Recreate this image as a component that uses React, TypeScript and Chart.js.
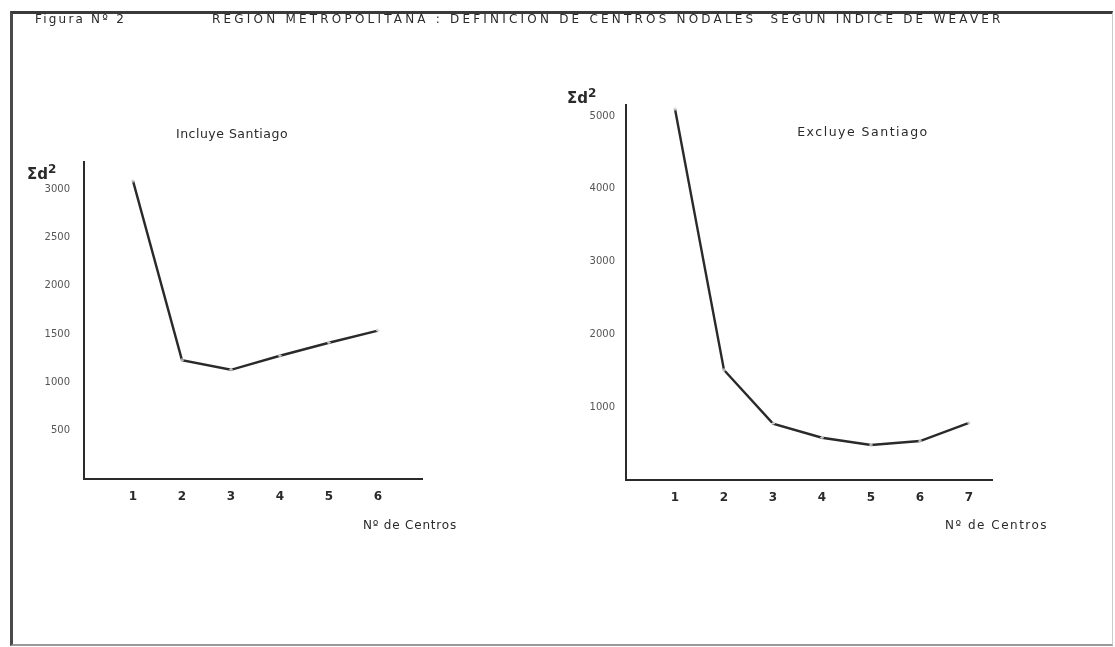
import React, { useEffect, useRef } from "react";
import { Chart, registerables } from "chart.js";

Chart.register(...registerables);

// ---- data ----
const leftCategories = [1, 2, 3, 4, 5, 6];
const leftValues = [3085, 1230, 1130, 1275, 1410, 1535];
const leftYTicks = [500, 1000, 1500, 2000, 2500, 3000];

const rightCategories = [1, 2, 3, 4, 5, 6, 7];
const rightValues = [5095, 1510, 775, 580, 480, 535, 785];
const rightYTicks = [1000, 2000, 3000, 4000, 5000];

const figureLabel = "Figura Nº 2";
const titleText = "REGION METROPOLITANA : DEFINICION DE CENTROS NODALES  SEGUN INDICE DE WEAVER";
const leftSubtitle = "Incluye Santiago";
const rightSubtitle = "Excluye Santiago";
const xAxisTitle = "Nº de Centros";

const FONT = "'DejaVu Sans', sans-serif";
const INK = "#2a2a2a";

type Cfg = {
  cats: number[];
  vals: number[];
  yTicks: number[];
  xMax: number;
  yMax: number;
  yWidth: number;
  xHeight: number;
  padTop: number;
  padRight: number;
  tickPad: number;
};

function makeConfig(c: Cfg): any {
  return {
    type: "line",
    data: {
      datasets: [
        {
          data: c.cats.map((x, i) => ({ x, y: c.vals[i] })),
          borderColor: "#2a2a2a",
          borderWidth: 2.4,
          pointRadius: 2,
          pointStyle: "cross",
          pointBorderColor: "#ddd",
          pointBorderWidth: 1,
          tension: 0,
          fill: false,
        },
      ],
    },
    options: {
      animation: false,
      responsive: false,
      maintainAspectRatio: false,
      layout: { padding: { left: 0, top: c.padTop, right: c.padRight, bottom: 0 } },
      plugins: { legend: { display: false }, tooltip: { enabled: false }, title: { display: false } },
      scales: {
        x: {
          type: "linear",
          min: 0,
          max: c.xMax,
          afterBuildTicks: (s: any) => {
            s.ticks = c.cats.map((v) => ({ value: v }));
          },
          afterFit: (s: any) => {
            s.height = c.xHeight;
          },
          ticks: {
            autoSkip: false,
            maxRotation: 0,
            padding: 11,
            color: INK,
            font: { family: FONT, size: 12, weight: "bold" },
            callback: (v: any) => String(v),
          },
          grid: { display: true, drawOnChartArea: false, drawTicks: false },
          border: { display: true, color: "#2a2a2a", width: 2 },
        },
        y: {
          type: "linear",
          min: 0,
          max: c.yMax,
          afterBuildTicks: (s: any) => {
            s.ticks = c.yTicks.map((v) => ({ value: v }));
          },
          afterFit: (s: any) => {
            s.width = c.yWidth;
          },
          ticks: {
            autoSkip: false,
            padding: c.tickPad,
            color: "#555",
            font: { family: FONT, size: 10 },
            callback: (v: any) => String(v),
          },
          grid: { display: true, drawOnChartArea: false, drawTicks: false },
          border: { display: true, color: "#2a2a2a", width: 2 },
        },
      },
    },
  };
}

function ChartCanvas(props: { cfg: Cfg; left: number; width: number }) {
  const ref = useRef<HTMLCanvasElement | null>(null);
  useEffect(() => {
    if (!ref.current) return;
    const chart = new Chart(ref.current, makeConfig(props.cfg));
    return () => chart.destroy();
  }, []);
  return (
    <canvas
      ref={ref}
      width={props.width}
      height={647}
      style={{ position: "absolute", left: props.left, top: 0, width: props.width, height: 647 }}
    />
  );
}

function Txt(props: { x: number; y: number; text: string; size: number; spacing?: number; bold?: boolean; anchor?: "left" | "center"; color?: string }) {
  const style: any = {
    position: "absolute",
    top: props.y - props.size * 0.6,
    lineHeight: props.size * 1.2 + "px",
    fontFamily: FONT,
    fontSize: props.size,
    fontWeight: props.bold ? "bold" : "normal",
    letterSpacing: (props.spacing || 0) + "px",
    color: props.color || INK,
    whiteSpace: "pre",
  };
  if (props.anchor === "center") {
    style.left = props.x - 300;
    style.width = 600;
    style.textAlign = "center";
  } else {
    style.left = props.x;
  }
  return <div style={style}>{props.text}</div>;
}

function SigmaLabel(props: { x: number; y: number }) {
  return (
    <div
      style={{
        position: "absolute",
        left: props.x,
        top: props.y,
        fontFamily: FONT,
        fontWeight: "bold",
        fontSize: 15,
        lineHeight: "18px",
        color: INK,
        whiteSpace: "pre",
      }}
    >
      Σd<sup style={{ fontSize: 12 }}>2</sup>
    </div>
  );
}

export default function App() {
  const leftCfg: Cfg = {
    cats: leftCategories,
    vals: leftValues,
    yTicks: leftYTicks,
    xMax: 6.9,
    yMax: 3280,
    yWidth: 84,
    xHeight: 168,
    padTop: 162,
    padRight: 540 - 422,
    tickPad: 14,
  };
  const rightCfg: Cfg = {
    cats: rightCategories,
    vals: rightValues,
    yTicks: rightYTicks,
    xMax: 7.47,
    yMax: 5150,
    yWidth: 86,
    xHeight: 167,
    padTop: 105,
    padRight: 575 - 452,
    tickPad: 11,
  };
  return (
    <div style={{ position: "absolute", left: 0, top: 0, width: 1115, height: 647, background: "#fff", overflow: "hidden" }}>
      <div
        style={{
          position: "absolute",
          left: 10,
          top: 11,
          width: 1103,
          height: 635,
          boxSizing: "border-box",
          borderTop: "3px solid #3a3a3a",
          borderLeft: "3px solid #4a4a4a",
          borderBottom: "2px solid #999",
          borderRight: "1px solid #ccc",
        }}
      />
      <ChartCanvas cfg={leftCfg} left={0} width={540} />
      <ChartCanvas cfg={rightCfg} left={540} width={575} />
      <Txt x={35} y={19} text={figureLabel} size={12} spacing={2.2} />
      <Txt x={212} y={19} text={titleText} size={12} spacing={3.2} />
      <Txt x={232} y={133} text={leftSubtitle} size={12.5} spacing={0.5} anchor="center" />
      <Txt x={863} y={131} text={rightSubtitle} size={12.5} spacing={1.5} anchor="center" />
      <Txt x={363} y={525} text={xAxisTitle} size={12} spacing={0.8} />
      <Txt x={945} y={525} text={xAxisTitle} size={12} spacing={1.5} />
      <SigmaLabel x={27} y={160} />
      <SigmaLabel x={567} y={84} />
    </div>
  );
}
